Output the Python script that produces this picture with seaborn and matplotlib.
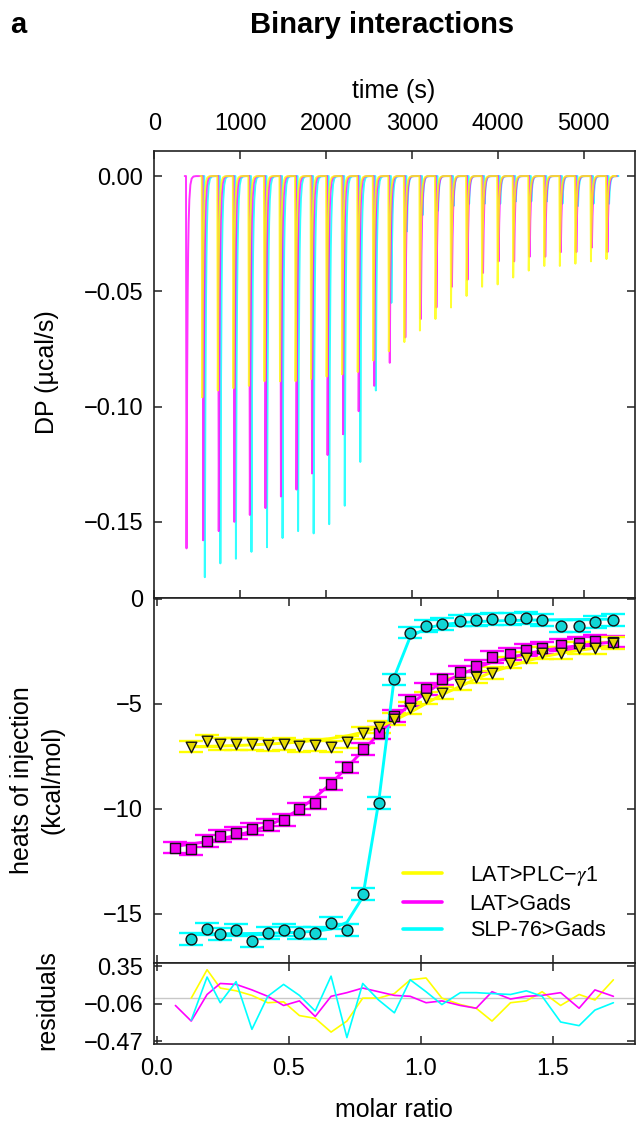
import numpy as np
import matplotlib
matplotlib.use("Agg")
import matplotlib.pyplot as plt
import seaborn as sns
from matplotlib.lines import Line2D

# ---------------- data ----------------
series_names = ["LAT>PLC\u2212$\\gamma$1", "LAT>Gads", "SLP-76>Gads"]
col_yellow, col_magenta, col_cyan = "#FFFF00", "#FF00FF", "#00FFFF"

# thermogram: injection times (s) and peak heights (ucal/s)
inj_time_yellow = [552, 733, 914, 1095, 1276, 1457, 1638, 1819, 2000, 2181, 2362, 2543, 2724, 2905,
                   3086, 3267, 3448, 3629, 3810, 3991, 4172, 4353, 4534, 4715, 4896, 5077, 5258]
inj_time_magenta = [369, 563, 744, 925, 1106, 1287, 1468, 1649, 1830, 2011, 2192, 2373, 2554, 2735,
                    2916, 3097, 3278, 3459, 3640, 3821, 4002, 4183, 4364, 4545, 4726, 4907, 5088, 5269]
inj_time_cyan = [582, 763, 944, 1125, 1306, 1487, 1668, 1849, 2030, 2211, 2392, 2573, 2754, 2935,
                 3116, 3297, 3478, 3659, 3840, 4021, 4202, 4383, 4564, 4745, 4926, 5107, 5288]

peak_yellow = [-0.096, -0.093, -0.092, -0.091, -0.089, -0.089, -0.089, -0.088, -0.087, -0.086, -0.085,
               -0.080, -0.076, -0.072, -0.067, -0.062, -0.057, -0.052, -0.048, -0.047, -0.044, -0.041,
               -0.039, -0.039, -0.038, -0.037, -0.036]
peak_magenta = [-0.1615, -0.158, -0.154, -0.150, -0.147, -0.144, -0.139, -0.136, -0.129, -0.121, -0.112,
                -0.102, -0.091, -0.081, -0.070, -0.062, -0.057, -0.048, -0.045, -0.042, -0.037, -0.037,
                -0.035, -0.035, -0.033, -0.033, -0.031, -0.033]
peak_cyan = [-0.174, -0.168, -0.166, -0.163, -0.161, -0.157, -0.154, -0.155, -0.151, -0.143, -0.124,
             -0.093, -0.055, -0.024, -0.017, -0.015, -0.013, -0.012, -0.012, -0.012, -0.011, -0.011,
             -0.011, -0.012, -0.013, -0.012, -0.012]

# integrated heats (kcal/mol) vs molar ratio
molar_yc = [0.13, 0.19, 0.24, 0.30, 0.36, 0.42, 0.48, 0.54, 0.60, 0.66, 0.72, 0.78, 0.84, 0.90,
            0.96, 1.02, 1.08, 1.15, 1.21, 1.27, 1.34, 1.40, 1.46, 1.53, 1.60, 1.66, 1.73]
molar_m = [0.07, 0.13, 0.19, 0.24, 0.30, 0.36, 0.42, 0.48, 0.54, 0.60, 0.66, 0.72, 0.78, 0.84,
           0.90, 0.96, 1.02, 1.08, 1.15, 1.21, 1.27, 1.34, 1.40, 1.46, 1.53, 1.60, 1.66, 1.73]

heat_yellow = [-7.03, -6.75, -6.90, -6.90, -6.90, -6.95, -6.90, -7.00, -6.95, -7.03, -6.80, -6.37, -6.08,
               -5.73, -5.21, -4.73, -4.49, -4.05, -3.70, -3.51, -3.03, -2.79, -2.56, -2.56, -2.35, -2.35, -2.08]
fit_yellow = [-7.03, -7.02, -7.00, -6.98, -6.95, -6.91, -6.87, -6.81, -6.73, -6.64, -6.52, -6.35, -6.10,
              -5.78, -5.40, -4.98, -4.56, -4.16, -3.80, -3.48, -3.20, -2.96, -2.76, -2.59, -2.45, -2.33, -2.22]
heat_magenta = [-11.84, -11.92, -11.52, -11.29, -11.13, -10.97, -10.76, -10.52, -10.02, -9.70, -8.81, -8.02,
                -7.16, -6.37, -5.57, -4.84, -4.30, -3.83, -3.46, -3.19, -2.78, -2.62, -2.43, -2.35, -2.19,
                -2.11, -1.98, -2.03]
fit_magenta = [-11.78, -11.67, -11.55, -11.42, -11.26, -11.06, -10.80, -10.46, -10.01, -9.45, -8.78, -8.03,
               -7.23, -6.43, -5.68, -5.02, -4.46, -3.99, -3.60, -3.28, -3.01, -2.79, -2.61, -2.46, -2.33,
               -2.22, -2.13, -2.05]
heat_cyan = [-16.19, -15.73, -15.97, -15.76, -16.29, -15.89, -15.76, -15.89, -15.92, -15.44, -15.76, -14.06,
             -9.70, -3.83, -1.60, -1.29, -1.21, -1.03, -1.00, -0.97, -0.97, -0.92, -1.00, -1.27, -1.27,
             -1.08, -1.00]
fit_cyan = [-15.95, -15.95, -15.94, -15.94, -15.93, -15.92, -15.90, -15.87, -15.82, -15.72, -15.40, -14.20,
            -9.70, -3.70, -1.80, -1.40, -1.22, -1.13, -1.08, -1.05, -1.03, -1.01, -1.00, -0.99, -0.98,
            -0.97, -0.96]
heat_err = 0.28

# residuals (kcal/mol)
res_yellow = [0.00, 0.31, 0.11, 0.08, 0.03, -0.05, -0.04, -0.19, -0.22, -0.37, -0.25, 0.00, 0.00, 0.05,
              0.20, 0.22, 0.00, -0.07, -0.11, -0.25, -0.05, -0.03, 0.07, -0.08, 0.04, -0.02, 0.20]
res_magenta = [-0.08, -0.25, 0.04, 0.16, 0.15, 0.09, 0.02, -0.08, -0.03, -0.20, 0.02, 0.06, 0.11, 0.07,
               0.03, 0.02, -0.05, -0.03, -0.08, -0.11, 0.07, -0.01, 0.02, 0.03, 0.06, -0.11, 0.09, 0.02]
res_cyan = [-0.24, 0.23, -0.05, 0.18, -0.34, 0.02, 0.15, 0.03, -0.14, 0.24, -0.43, 0.16, -0.02, -0.16,
            0.20, 0.07, -0.07, 0.06, 0.06, 0.05, 0.04, 0.08, 0.02, -0.26, -0.30, -0.13, -0.05]

time_ticks = [0, 1000, 2000, 3000, 4000, 5000]
dp_ticks = [0.0, -0.05, -0.10, -0.15]
dp_labels = ["0.00", "\u22120.05", "\u22120.10", "\u22120.15"]
heat_ticks = [0, -5, -10, -15]
heat_labels = ["0", "\u22125", "\u221210", "\u221215"]
res_ticks = [0.35, -0.06, -0.47]
res_labels = ["0.35", "\u22120.06", "\u22120.47"]
molar_ticks = [0.0, 0.5, 1.0, 1.5]
molar_labels = ["0.0", "0.5", "1.0", "1.5"]

# ---------------- style ----------------
sns.set_theme(style="ticks")
plt.rcParams["font.family"] = ["Liberation Sans", "DejaVu Sans"]
plt.rcParams["mathtext.fontset"] = "stix"
plt.rcParams["axes.linewidth"] = 1.2
plt.rcParams["axes.edgecolor"] = "#222222"
plt.rcParams["text.color"] = "black"
plt.rcParams["axes.labelcolor"] = "black"
plt.rcParams["xtick.color"] = "black"
plt.rcParams["ytick.color"] = "black"

W, H = 636, 1127
fig = plt.figure(figsize=(W / 100, H / 100), dpi=100)

def frac_box(l, t, r, b):
    return [l / W, 1 - b / H, (r - l) / W, (b - t) / H]

ax1 = fig.add_axes(frac_box(154.3, 150.7, 634.5, 597.5))
ax2 = fig.add_axes(frac_box(154.3, 597.5, 634.5, 963.3))
ax3 = fig.add_axes(frac_box(154.3, 963.3, 634.5, 1044.0), sharex=ax2)


def thermogram(times, peaks, t_end, rise=6.0, tau=12.0):
    t = [times[0] - 15]
    y = [0.0]
    for ti, p in zip(times, peaks):
        t += [ti, ti + rise]
        y += [0.0, p]
        for dt in (2, 4, 7, 10, 14, 19, 25, 33, 45, 60, 80, 110):
            t.append(ti + rise + dt)
            y.append(p * np.exp(-dt / tau))
    t.append(t_end)
    y.append(0.0)
    return np.array(t), np.array(y)

for times, peaks, col in [(inj_time_cyan, peak_cyan, col_cyan),
                          (inj_time_magenta, peak_magenta, col_magenta),
                          (inj_time_yellow, peak_yellow, col_yellow)]:
    tt, yy = thermogram(times, peaks, times[-1] + 80)
    sns.lineplot(x=tt, y=yy, ax=ax1, color=col, lw=1.4, alpha=0.8,
                 estimator=None, sort=False)

ax1.set_xlim(0, 5590)
ax1.set_ylim(-0.1828, 0.011)
ax1.set_xticks(time_ticks)
ax1.set_xticklabels([str(v) for v in time_ticks])
ax1.set_yticks(dp_ticks)
ax1.set_yticklabels(dp_labels)
ax1.tick_params(axis="both", direction="in", length=5.8, width=1.1, color="#222222",
                labelsize=17, labelcolor="black", top=True, right=True, bottom=True, left=True,
                labeltop=True, labelbottom=False)
ax1.tick_params(axis="x", pad=11)
ax1.tick_params(axis="y", pad=8)

# middle panel: heats
for mx, heat, fit, col in [
        (molar_yc, heat_cyan, fit_cyan, col_cyan),
        (molar_m, heat_magenta, fit_magenta, col_magenta),
        (molar_yc, heat_yellow, fit_yellow, col_yellow)]:
    ax2.errorbar(mx, heat, yerr=heat_err, fmt="none", ecolor=col, elinewidth=1.2,
                 capsize=8.3, capthick=1.7, zorder=2)
    sns.lineplot(x=mx, y=fit, ax=ax2, color=col, lw=2.1, estimator=None, sort=False, zorder=3)

for mx, heat, face, mk, ms in [
        (molar_yc, heat_cyan, "#12d6d6", "o", 7.8),
        (molar_m, heat_magenta, "#ee00ee", "s", 7.0),
        (molar_yc, heat_yellow, "#e6da00", "v", 7.6)]:
    sns.scatterplot(x=mx, y=heat, ax=ax2, marker=mk, s=ms ** 2, color=face,
                    edgecolor="#111111", linewidth=1.0, zorder=4)

ax2.set_xlim(-0.01, 1.81)
ax2.set_ylim(-17.35, 0.07)
ax2.set_yticks(heat_ticks)
ax2.set_yticklabels(heat_labels)
ax2.tick_params(axis="both", direction="in", length=5.8, width=1.1, color="#222222",
                labelsize=17, labelcolor="black", top=True, right=True, bottom=True, left=True,
                labelbottom=False, pad=8)

handles = [Line2D([0], [0], color=c, lw=2.6) for c in (col_yellow, col_magenta, col_cyan)]
ax2.legend(handles, series_names, loc="upper left",
           bbox_to_anchor=((403 - 154.3) / 480.2, (963.3 - 864) / 365.8),
           frameon=False, fontsize=15.5, handlelength=1.8, handletextpad=1.3,
           labelspacing=0.26, borderpad=0, borderaxespad=0, labelcolor="black")

# bottom panel: residuals
ax3.axhline(0, color="#c8c8c8", lw=1.0, zorder=1)
for mx, res, col in [(molar_yc, res_yellow, col_yellow),
                     (molar_m, res_magenta, col_magenta),
                     (molar_yc, res_cyan, col_cyan)]:
    sns.lineplot(x=mx, y=res, ax=ax3, color=col, lw=1.2, estimator=None, sort=False, zorder=2)
ax3.set_ylim(-0.50, 0.38)
ax3.set_yticks(res_ticks)
ax3.set_yticklabels(res_labels)
ax3.set_xticks(molar_ticks)
ax3.set_xticklabels(molar_labels)
ax3.tick_params(axis="both", direction="in", length=5.8, width=1.1, color="#222222",
                labelsize=17, labelcolor="black", top=True, right=True, bottom=True, left=True)
ax3.tick_params(axis="x", pad=10)
ax3.tick_params(axis="y", pad=8)

for ax in (ax1, ax2, ax3):
    ax.set_xlabel("")
    ax.set_ylabel("")
    for s in ax.spines.values():
        s.set_visible(True)

# texts
def ftext(x, y, s, **kw):
    fig.text(x / W, 1 - y / H, s, color="black", **kw)

ftext(382, 33, "Binary interactions", ha="center", va="baseline", fontsize=21, fontweight="bold")
ftext(18, 33, "a", ha="center", va="baseline", fontsize=21, fontweight="bold")
ftext(394, 98, "time (s)", ha="center", va="baseline", fontsize=18)
ftext(394, 1117, "molar ratio", ha="center", va="baseline", fontsize=18)
ftext(47, 372, "DP (\u00b5cal/s)", ha="center", va="center", rotation=90, fontsize=18)
ftext(22, 780, "heats of injection", ha="center", va="center", rotation=90, fontsize=18)
ftext(53, 780, "(kcal/mol)", ha="center", va="center", rotation=90, fontsize=18)
ftext(47, 1000, "residuals", ha="center", va="center", rotation=90, fontsize=18)

fig.savefig("out.png", dpi=100)
